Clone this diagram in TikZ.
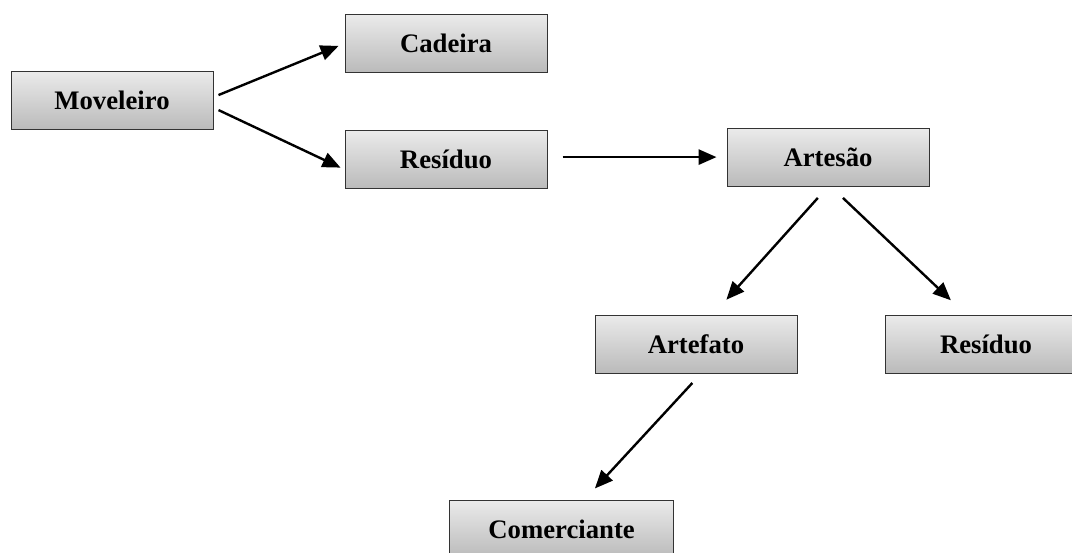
\documentclass[tikz,border=0pt]{standalone}
\usepackage{fontspec}
\setmainfont{Liberation Serif}
\usetikzlibrary{positioning,arrows.meta}

\begin{document}
\begin{tikzpicture}[%
    ->,>={Triangle[length=0.45cm,width=0.38cm]},line width=0.06cm,
    caixa/.style={%
      rectangle,draw=black!80,line width=0.025cm,top color=black!8,bottom color=black!27,
      minimum width=5.05cm,minimum height=1.45cm,inner sep=0pt,
      font=\bfseries\fontsize{19}{23}\selectfont}
  ]
    \useasboundingbox (0,0) rectangle (26.8,-13.8);
    \node[caixa] (mov) at (2.8,-2.5125)                              {Moveleiro};
    \node[caixa] (cad) [right=3.275cm of mov, yshift=1.425cm]        {Cadeira};
    \node[caixa] (res1) [below=1.425cm of cad]                       {Resíduo};
    \node[caixa] (art) [right=4.475cm of res1, yshift=0.06cm]        {Artesão};
    \node[caixa] (afo) [below=3.2cm of art, xshift=-3.3cm]           {Artefato};
    \node[caixa] (res2) [right=2.175cm of afo]                       {Resíduo};
    \node[caixa, minimum width=5.6cm] (com) [below=3.15cm of afo, xshift=-3.36cm] {Comerciante};
    \draw[shorten <=0.135cm, shorten >=0.16cm] ([yshift=0.085cm]mov.east) -- (cad.west);
    \draw[shorten <=0.14cm, shorten >=0.11cm] ([yshift=-0.18cm]mov.east) -- ([yshift=-0.25cm]res1.west);
    \draw[shorten <=0.375cm, shorten >=0.25cm] (res1.east |- art.west) -- (art.west);
    \draw[shorten <=0.38cm, shorten >=0.5cm] (art.south) -- ([xshift=0.425cm]afo.north);
    \draw[shorten <=0.41cm, shorten >=0.52cm] ([xshift=0.075cm]art.south) -- ([xshift=-0.5cm]res2.north);
    \draw[shorten <=0.32cm, shorten >=0.38cm] ([xshift=0.125cm]afo.south) -- ([xshift=0.575cm]com.north);
  \end{tikzpicture}
\end{document}
